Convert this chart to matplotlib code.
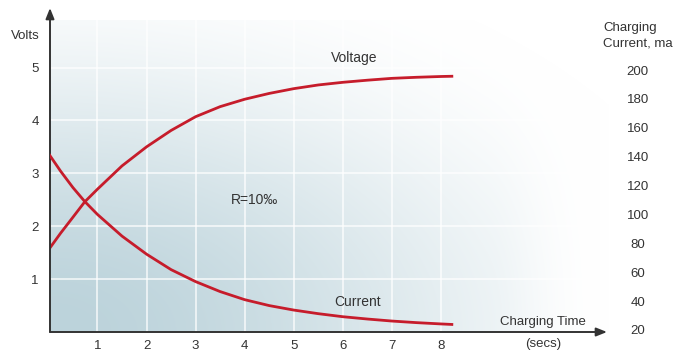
import numpy as np
import matplotlib
matplotlib.use("Agg")
import matplotlib.pyplot as plt

plt.rcParams['font.family'] = ['Liberation Sans', 'DejaVu Sans']

# ---- data ----
time = [0, 0.25, 0.5, 0.74, 1, 1.5, 2, 2.5, 3, 3.5, 4, 4.5, 5, 5.5, 6, 6.5, 7, 7.5, 8, 8.25]
voltage = [1.55, 1.87, 2.17, 2.46, 2.70, 3.14, 3.50, 3.81, 4.07, 4.26, 4.40, 4.51, 4.60, 4.67,
           4.72, 4.76, 4.795, 4.815, 4.83, 4.835]
current_ma = [142.3, 129.9, 118.6, 109, 100.0, 85.0, 72.5, 61.8, 53.5, 46.6, 41.0, 36.9, 33.8,
              31.3, 29.2, 27.6, 26.2, 25.1, 24.2, 23.8]

volt_ticks = [1, 2, 3, 4, 5]
time_ticks = [1, 2, 3, 4, 5, 6, 7, 8]
ma_ticks = [20, 40, 60, 80, 100, 120, 140, 160, 180, 200]

W, H = 674, 354
fig = plt.figure(figsize=(W / 100, H / 100), dpi=100)
fig.patch.set_facecolor('white')

# axes in pixel geometry
L, R, B, T = 50, 610, 332, 20
ax = fig.add_axes([L / W, (H - B) / H, (R - L) / W, (B - T) / H])
ax.set_xlim((L - 48.4) / 49.07, (R - 48.4) / 49.07)
ax.set_ylim(0, (B - T) / 52.9)

# gradient background (radial, darkest at lower-left, smooth falloff)
nx, ny = 560, 312
u = np.linspace(0, R - L, nx)
v = np.linspace(0, B - T, ny)
U, V = np.meshgrid(u, v)
d = np.clip(np.sqrt((U / 680.0) ** 2 + (V / 400.0) ** 2), 0, 1)
f = 1 - d * d * (3 - 2 * d)
edge = np.clip((R - L - U) / 120.0, 0, 1)
f = f * (edge * edge * (3 - 2 * edge))
base = np.array([188, 211, 219]) / 255.0
img = np.ones((ny, nx, 3)) - f[..., None] * (1 - base)[None, None, :]
ax.imshow(img, origin='lower', extent=[0, 1, 0, 1], transform=ax.transAxes,
          aspect='auto', zorder=0, interpolation='bilinear')

# grid
for t in time_ticks:
    ax.axvline(t, color='white', lw=1.1, alpha=0.85, zorder=1)
for vv in volt_ticks:
    ax.axhline(vv, color='white', lw=1.1, alpha=0.85, zorder=1)

red = '#c61c2b'
ax.plot(time, voltage, color=red, lw=2.0, zorder=3, solid_capstyle='butt',
        solid_joinstyle='round')

ax2 = ax.twinx()
ma_lo = 20 + (330 - B) / 1.4444
ma_hi = 20 + (330 - T) / 1.4444
ax2.set_ylim(ma_lo, ma_hi)
ax2.plot(time, current_ma, color=red, lw=2.0, zorder=3, solid_capstyle='butt',
         solid_joinstyle='round')

txtc = '#333333'
fs = 9.5
ax.set_xticks(time_ticks)
ax.set_yticks(volt_ticks)
ax.tick_params(axis='both', length=0, labelsize=fs, labelcolor=txtc)
ax.tick_params(axis='x', pad=6)
ax.tick_params(axis='y', pad=8)
ax2.set_yticks(ma_ticks)
ax2.tick_params(axis='y', length=0, labelsize=fs, labelcolor=txtc, pad=20)
for lab in ax2.get_yticklabels():
    lab.set_horizontalalignment('center')

for a in (ax, ax2):
    for s in a.spines.values():
        s.set_visible(False)

# axis arrows
arrow_kw = dict(arrowstyle='-|>,head_length=0.45,head_width=0.18', color='#333333',
                lw=1.4, mutation_scale=14, shrinkA=0, shrinkB=0)
ax.annotate('', xy=(0, (B - 8) / (B - T)), xytext=(0, 0), xycoords='axes fraction',
            textcoords='axes fraction', arrowprops=arrow_kw, annotation_clip=False, zorder=5)
ax.annotate('', xy=((607 - L) / (R - L), 0), xytext=(0, 0), xycoords='axes fraction',
            textcoords='axes fraction', arrowprops=arrow_kw, annotation_clip=False, zorder=5)

# labels
ax.text(6.23, 5.18, 'Voltage', ha='center', va='center', fontsize=fs + 0.5, color=txtc, zorder=4)
ax.text(6.31, 0.57, 'Current', ha='center', va='center', fontsize=fs + 0.5, color=txtc, zorder=4)
ax.text(4.2, 2.50, 'R=10‰', ha='center', va='center', fontsize=fs + 0.5, color=txtc, zorder=4)

def px(x, y):
    return x / W, 1 - y / H

fig.text(*px(25, 36), 'Volts', ha='center', va='center', fontsize=fs, color=txtc)
fig.text(*px(543, 322), 'Charging Time', ha='center', va='center', fontsize=fs, color=txtc)
fig.text(*px(543, 344), '(secs)', ha='center', va='center', fontsize=fs, color=txtc)
fig.text(*px(603, 28), 'Charging', ha='left', va='center', fontsize=fs, color=txtc)
fig.text(*px(603, 44), 'Current, ma', ha='left', va='center', fontsize=fs, color=txtc)

fig.savefig('out.png', dpi=100)
